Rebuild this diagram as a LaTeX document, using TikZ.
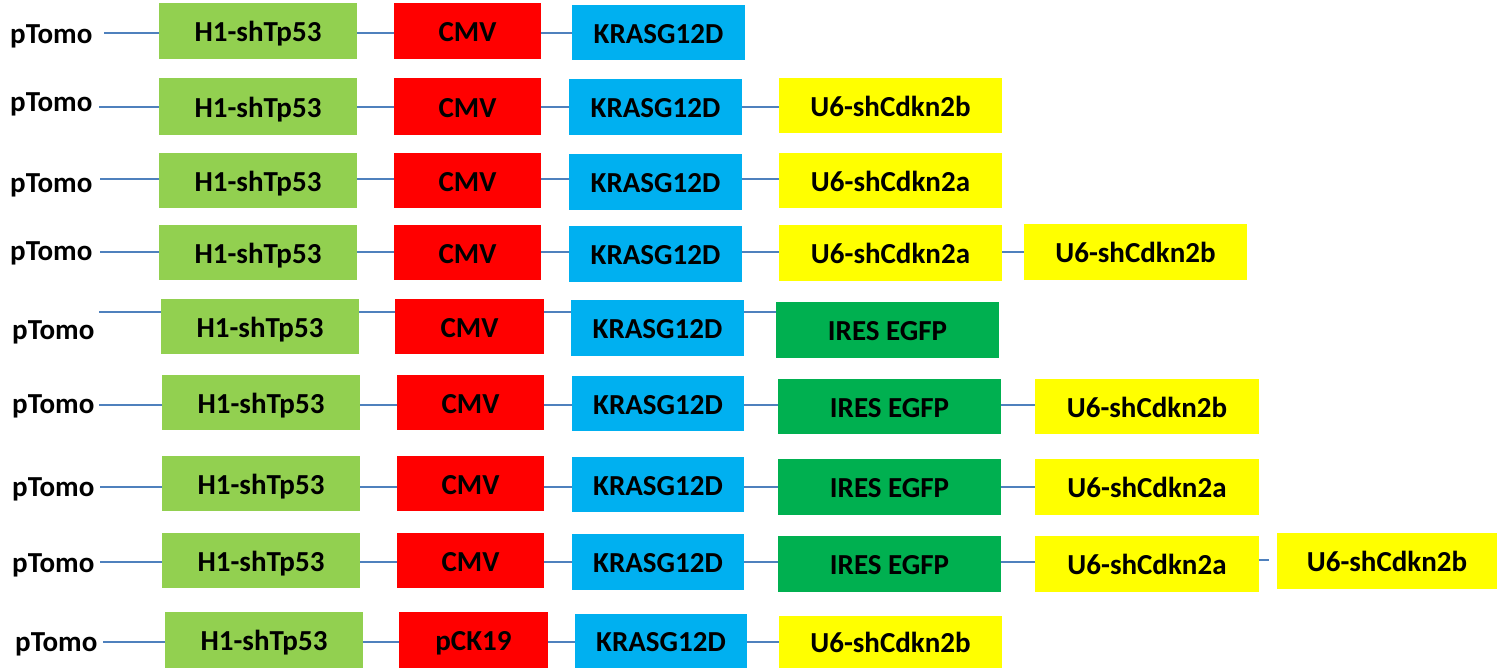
\documentclass[tikz,border=0pt]{standalone}
\usepackage{fontspec}
\setmainfont{Carlito}
\definecolor{cH}{HTML}{92D050}
\definecolor{cR}{HTML}{FF0000}
\definecolor{cK}{HTML}{00B0F0}
\definecolor{cY}{HTML}{FFFF00}
\definecolor{cI}{HTML}{00B050}
\definecolor{cL}{HTML}{4F81BD}
\tikzset{
  box/.style={inner sep=0pt, outer sep=0pt, text height=21.7pt, text depth=0pt, font=\fontsize{29}{31}\selectfont\bfseries},
  lbl/.style={inner sep=0pt, anchor=west, text height=18.7pt, text depth=0pt, font=\fontsize{29}{31}\selectfont\bfseries},
  conn/.style={draw=cL, line width=2pt}
}
\newcommand{\blk}[7]{\node[box,fill=#6,minimum width={(#4-#2)*1pt},minimum height={(#5-#3)*1pt}] (#1) at ({(#2+#4)/2},{(#3+#5)/2}) {#7};}
\newcommand{\cn}[3]{\draw[conn] (#1.east |- #3) -- (#2.west |- #3);}
\begin{document}
\begin{tikzpicture}[x=1pt,y=-1pt]
\useasboundingbox (0,0) rectangle (1499,668);
% Row 1
\node[lbl] (p1) at (10,34) {pTomo};
\coordinate (s1) at (104,33);
\blk{h1}{159}{3}{357}{59}{cH}{H1-shTp53}
\blk{c1}{394}{3}{541}{59}{cR}{CMV}
\blk{k1}{572}{5}{745}{60}{cK}{KRASG12D}
\draw[conn] (s1) -- (h1.west |- s1);
\cn{h1}{c1}{s1}\cn{c1}{k1}{s1}
% Row 2
\node[lbl] (p2) at (10,102) {pTomo};
\coordinate (s2) at (99,107);
\blk{h2}{159}{78}{357}{135}{cH}{H1-shTp53}
\blk{c2}{394}{78}{541}{135}{cR}{CMV}
\blk{k2}{569}{79}{742}{135}{cK}{KRASG12D}
\blk{u2}{779}{78}{1002}{133}{cY}{U6-shCdkn2b}
\draw[conn] (s2) -- (h2.west |- s2);
\cn{h2}{c2}{s2}\cn{c2}{k2}{s2}\cn{k2}{u2}{s2}
% Row 3
\node[lbl] (p3) at (10,183) {pTomo};
\coordinate (s3) at (100,179);
\blk{h3}{159}{153}{357}{208}{cH}{H1-shTp53}
\blk{c3}{394}{153}{541}{208}{cR}{CMV}
\blk{k3}{569}{154}{742}{210}{cK}{KRASG12D}
\blk{u3}{779}{153}{1002}{208}{cY}{U6-shCdkn2a}
\draw[conn] (s3) -- (h3.west |- s3);
\cn{h3}{c3}{s3}\cn{c3}{k3}{s3}\cn{k3}{u3}{s3}
% Row 4
\node[lbl] (p4) at (10,251) {pTomo};
\coordinate (s4) at (100,252);
\blk{h4}{159}{225}{357}{280}{cH}{H1-shTp53}
\blk{c4}{394}{225}{541}{280}{cR}{CMV}
\blk{k4}{569}{226}{742}{282}{cK}{KRASG12D}
\blk{u4}{779}{225}{1002}{281}{cY}{U6-shCdkn2a}
\blk{v4}{1024}{224}{1247}{280}{cY}{U6-shCdkn2b}
\draw[conn] (s4) -- (h4.west |- s4);
\cn{h4}{c4}{s4}\cn{c4}{k4}{s4}\cn{k4}{u4}{s4}\cn{u4}{v4}{s4}
% Row 5
\node[lbl] (p5) at (12,330) {pTomo};
\coordinate (s5) at (99,312);
\blk{h5}{161}{299}{359}{354}{cH}{H1-shTp53}
\blk{c5}{395}{299}{544}{354}{cR}{CMV}
\blk{k5}{571}{300}{744}{356}{cK}{KRASG12D}
\blk{i5}{776}{302}{999}{358}{cI}{IRES EGFP}
\draw[conn] (s5) -- (h5.west |- s5);
\cn{h5}{c5}{s5}\cn{c5}{k5}{s5}\cn{k5}{i5}{s5}
% Row 6
\node[lbl] (p6) at (12,404) {pTomo};
\coordinate (s6) at (99,405);
\blk{h6}{162}{375}{360}{430}{cH}{H1-shTp53}
\blk{c6}{397}{375}{544}{430}{cR}{CMV}
\blk{k6}{572}{376}{744}{431}{cK}{KRASG12D}
\blk{i6}{778}{379}{1001}{434}{cI}{IRES EGFP}
\blk{u6}{1035}{379}{1259}{434}{cY}{U6-shCdkn2b}
\draw[conn] (s6) -- (h6.west |- s6);
\cn{h6}{c6}{s6}\cn{c6}{k6}{s6}\cn{k6}{i6}{s6}\cn{i6}{u6}{s6}
% Row 7
\node[lbl] (p7) at (12,487) {pTomo};
\coordinate (s7) at (100,487);
\blk{h7}{162}{456}{360}{511}{cH}{H1-shTp53}
\blk{c7}{397}{456}{544}{511}{cR}{CMV}
\blk{k7}{572}{457}{744}{512}{cK}{KRASG12D}
\blk{i7}{778}{459}{1001}{515}{cI}{IRES EGFP}
\blk{u7}{1035}{459}{1259}{515}{cY}{U6-shCdkn2a}
\draw[conn] (s7) -- (h7.west |- s7);
\cn{h7}{c7}{s7}\cn{c7}{k7}{s7}\cn{k7}{i7}{s7}\cn{i7}{u7}{s7}
% Row 8
\node[lbl] (p8) at (12,563) {pTomo};
\coordinate (s8) at (100,562);
\blk{h8}{162}{533}{360}{588}{cH}{H1-shTp53}
\blk{c8}{397}{533}{544}{588}{cR}{CMV}
\blk{k8}{572}{534}{744}{590}{cK}{KRASG12D}
\blk{i8}{778}{536}{1001}{592}{cI}{IRES EGFP}
\blk{u8}{1035}{536}{1259}{592}{cY}{U6-shCdkn2a}
\blk{v8}{1277}{533}{1497}{589}{cY}{U6-shCdkn2b}
\coordinate (e8) at (1269,560);
\draw[conn] (s8) -- (h8.west |- s8);
\cn{h8}{c8}{s8}\cn{c8}{k8}{s8}\cn{k8}{i8}{s8}\cn{i8}{u8}{s8}
\draw[conn] (u8.east |- e8) -- (e8);
% Row 9
\node[lbl] (p9) at (15,642) {pTomo};
\coordinate (s9) at (103,642);
\blk{h9}{165}{612}{363}{668}{cH}{H1-shTp53}
\blk{c9}{399}{612}{548}{668}{cR}{pCK19}
\blk{k9}{575}{614}{747}{668}{cK}{KRASG12D}
\blk{u9}{779}{616}{1002}{668}{cY}{U6-shCdkn2b}
\draw[conn] (s9) -- (h9.west |- s9);
\cn{h9}{c9}{s9}\cn{c9}{k9}{s9}\cn{k9}{u9}{s9}
\end{tikzpicture}
\end{document}
